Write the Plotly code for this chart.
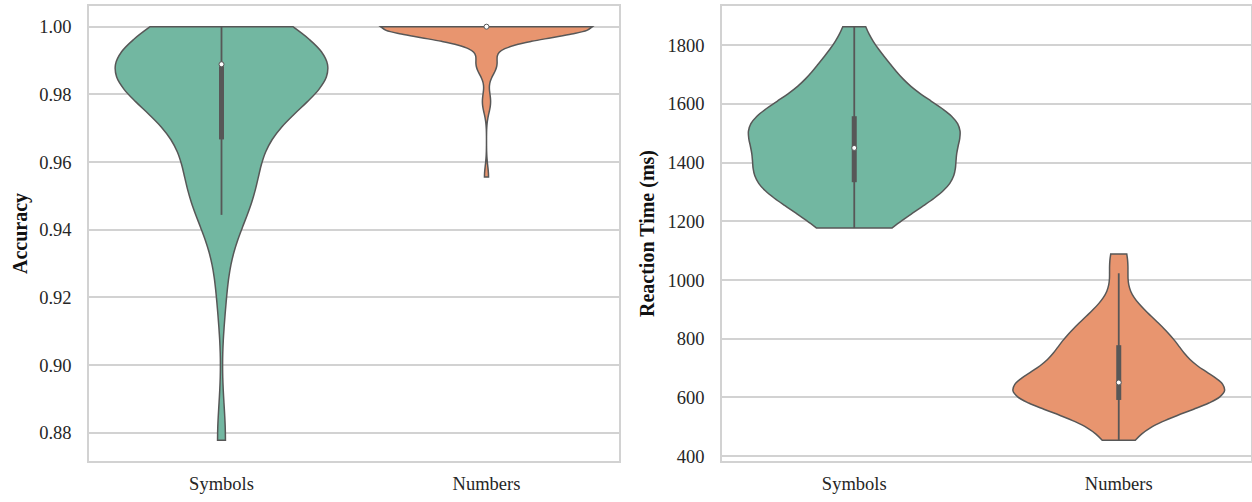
import numpy as np
import plotly.graph_objects as go
from plotly.subplots import make_subplots

# ---------------- data (per-participant values) ----------------
categories = ["Symbols", "Numbers"]

acc_symbols = [0.8778, 0.9222, 0.9444, 0.9444, 0.9444, 0.9556, 0.9556, 0.9556, 0.9556, 0.9556,
               0.9667, 0.9667, 0.9778, 0.9778, 0.9778, 0.9778, 0.9778, 0.9778, 0.9778, 0.9778,
               0.9889, 0.9889, 0.9889, 0.9889, 0.9889, 0.9889, 0.9889, 0.9889, 0.9889, 0.9889,
               0.9889, 0.9889, 0.9889, 0.9889, 0.9889, 0.9889, 0.9889, 0.9889,
               1.0, 1.0, 1.0, 1.0, 1.0, 1.0]

acc_numbers = [0.9556, 0.9778, 0.9778, 0.9889, 0.9889, 0.9889, 0.9889, 0.9889,
               1.0, 1.0, 1.0, 1.0, 1.0, 1.0, 1.0, 1.0, 1.0, 1.0, 1.0, 1.0, 1.0,
               1.0, 1.0, 1.0, 1.0, 1.0, 1.0, 1.0, 1.0, 1.0, 1.0, 1.0, 1.0, 1.0,
               1.0, 1.0, 1.0, 1.0, 1.0, 1.0, 1.0, 1.0, 1.0, 1.0, 1.0, 1.0, 1.0,
               1.0, 1.0, 1.0, 1.0, 1.0, 1.0, 1.0, 1.0, 1.0, 1.0, 1.0, 1.0, 1.0]

rt_symbols = [1177, 1180, 1196, 1250, 1273, 1285, 1311, 1316, 1317, 1325,
              1336, 1338, 1355, 1365, 1385, 1393, 1394, 1428, 1442, 1443,
              1457, 1516, 1519, 1520, 1521, 1523, 1524, 1525, 1530, 1553,
              1573, 1576, 1581, 1596, 1641, 1715, 1718, 1720, 1721, 1863]

rt_numbers = [454, 475, 558, 583, 586, 588, 589, 589, 590, 590,
              592, 627, 629, 630, 631, 632, 633, 634, 637, 648,
              654, 655, 656, 658, 719, 726, 749, 752, 754, 775,
              787, 788, 790, 792, 868, 871, 873, 875, 1023, 1089]

acc_ticks = [0.88, 0.90, 0.92, 0.94, 0.96, 0.98, 1.00]
rt_ticks = [400, 600, 800, 1000, 1200, 1400, 1600, 1800]

# ---------------- styling ----------------
FILL = {"Symbols": "#72b7a1", "Numbers": "#e8956f"}
EDGE = "#575757"
GRID = "#d2d2d2"
TXT = "#262626"
FONT = "Liberation Serif"


def scott_bw(x):
    x = np.asarray(x, float)
    return float(np.std(x, ddof=1) * len(x) ** (-0.2))


def box_stats(x):
    x = np.asarray(x, float)
    q1, med, q3 = np.percentile(x, [25, 50, 75])
    iqr = q3 - q1
    lo = x[x >= q1 - 1.5 * iqr].min()
    hi = x[x <= q3 + 1.5 * iqr].max()
    return q1, med, q3, lo, hi


fig = make_subplots(rows=1, cols=2)

panels = [
    (1, {"Symbols": acc_symbols, "Numbers": acc_numbers}),
    (2, {"Symbols": rt_symbols, "Numbers": rt_numbers}),
]

for col, series in panels:
    for cat in categories:
        vals = series[cat]
        fig.add_trace(go.Violin(
            x0=cat, y=vals, name=cat, orientation="v",
            fillcolor=FILL[cat], opacity=1,
            line=dict(color=EDGE, width=1.5),
            spanmode="hard", bandwidth=scott_bw(vals),
            scalemode="width", width=0.8, points=False,
            box_visible=False, meanline_visible=False,
            hoverinfo="skip", showlegend=False,
        ), row=1, col=col)
        q1, med, q3, lo, hi = box_stats(vals)
        fig.add_trace(go.Scatter(
            x=[cat, cat], y=[lo, hi], mode="lines",
            line=dict(color=EDGE, width=1.8), hoverinfo="skip", showlegend=False,
        ), row=1, col=col)
        if q3 > q1:
            fig.add_trace(go.Scatter(
                x=[cat, cat], y=[q1, q3], mode="lines",
                line=dict(color=EDGE, width=5), hoverinfo="skip", showlegend=False,
            ), row=1, col=col)
        fig.add_trace(go.Scatter(
            x=[cat], y=[med], mode="markers",
            marker=dict(color="white", size=5, line=dict(color=EDGE, width=1)),
            hoverinfo="skip", showlegend=False,
        ), row=1, col=col)


def padded(vals_lists):
    allv = np.concatenate([np.asarray(v, float) for v in vals_lists])
    lo, hi = allv.min(), allv.max()
    pad = 0.05 * (hi - lo)
    return [lo - pad, hi + pad]


W, H = 1252, 502
xdom1 = [89 / W, 619 / W]
xdom2 = [722 / W, 1251 / W]

xcommon = dict(type="category", categoryorder="array", categoryarray=categories,
               range=[-0.5, 1.5], showgrid=False, zeroline=False,
               showline=True, mirror=True, linecolor=GRID, linewidth=1.6,
               ticks="outside", ticklen=5, tickcolor="rgba(0,0,0,0)",
               tickfont=dict(family=FONT, size=18.5, color=TXT), automargin=False)
ycommon = dict(showgrid=True, gridcolor=GRID, gridwidth=1.6, zeroline=False,
               showline=True, mirror=True, linecolor=GRID, linewidth=1.6,
               ticks="outside", ticklen=12, tickcolor="rgba(0,0,0,0)",
               tickfont=dict(family=FONT, size=18.5, color=TXT), automargin=False)

fig.update_xaxes(**xcommon)
fig.update_yaxes(**ycommon)
fig.update_xaxes(domain=xdom1, row=1, col=1)
fig.update_xaxes(domain=xdom2, row=1, col=2)

fig.update_yaxes(range=padded([acc_symbols, acc_numbers]), tickvals=acc_ticks,
                 ticktext=["%.2f" % t for t in acc_ticks],
                 title=dict(text="<b>Accuracy</b>", standoff=6,
                            font=dict(family=FONT, size=20, color="#111111")),
                 row=1, col=1)
fig.update_yaxes(range=padded([rt_symbols, rt_numbers]), tickvals=rt_ticks,
                 ticktext=[str(t) for t in rt_ticks],
                 title=dict(text="<b>Reaction Time (ms)</b>", standoff=8,
                            font=dict(family=FONT, size=20, color="#111111")),
                 row=1, col=2)

fig.update_layout(
    width=W, height=H, template="none",
    margin=dict(l=0, r=0, t=6, b=41),
    paper_bgcolor="white", plot_bgcolor="white",
    violinmode="overlay", showlegend=False,
)

fig.write_html("out.html", config={"displayModeBar": False},
               post_script="document.body.style.margin='0px';document.body.style.overflow='hidden';")
